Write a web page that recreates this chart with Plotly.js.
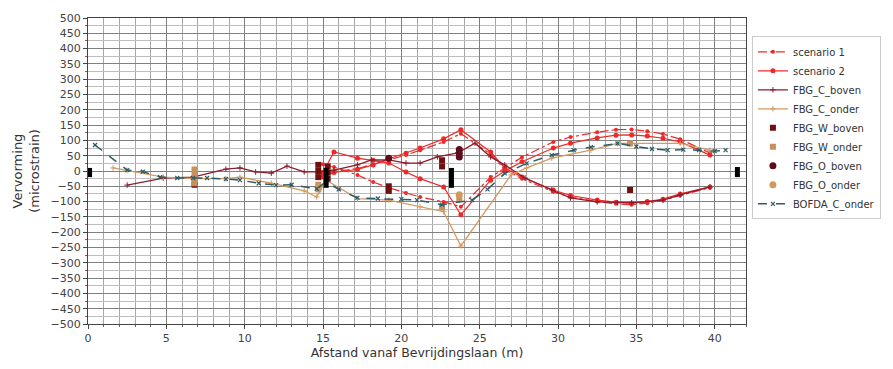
<!DOCTYPE html>
<html>
<head>
<meta charset="utf-8">
<script src="https://cdn.plot.ly/plotly-3.0.1.min.js"></script>
<style>html,body{margin:0;padding:0;background:#fff;}#chart{width:893px;height:369px;}</style>
</head>
<body>
<div id="chart"></div>
<script>
// Scenario sensor positions (m)
const scenX = [15.0, 15.7, 17.2, 18.2, 19.2, 20.3, 21.2, 22.7, 23.8, 25.7, 26.6, 27.7, 29.7, 30.8, 32.5, 33.7, 34.7, 35.7, 36.7, 37.8, 39.7];
const scen1A = [-10, -2, 8, 22, 38, 52, 68, 95, 122, 55, 5, -25, -68, -85, -100, -107, -110, -105, -96, -80, -55];
const scen1B = [22, 13, -13, -36, -55, -72, -85, -101, -117, -20, 10, 45, 95, 111, 127, 135, 136, 130, 121, 104, 59];
const scen2A = [-20, -5, 5, 20, 40, 58, 75, 105, 135, 62, 10, -20, -62, -80, -95, -102, -105, -100, -92, -75, -52];
const scen2B = [-5, 62, 42, 35, 26, -3, -25, -52, -143, -30, 0, 30, 75, 91, 108, 117, 118, 114, 107, 95, 52];

const cBovenX = [2.5, 4.8, 6.7, 8.8, 9.7, 10.7, 11.7, 12.7, 13.8, 14.7, 15.7, 17.2, 18.1, 19.2, 20.3, 21.2, 22.3, 23.6, 24.7, 25.7, 26.6, 27.9, 29.6, 30.8, 32.5, 33.8, 34.7, 36.7, 37.8, 39.7];
const cBovenY = [-46, -23, -20, 6, 10, -3, -7, 16, -3, -3, 3, 20, 36, 36, 26, 26, 46, 59, 91, 46, 20, -23, -62, -88, -101, -104, -104, -95, -78, -52];

const cOnderX = [1.6, 2.5, 4.8, 6.8, 8.8, 9.7, 11.7, 13.8, 14.6, 15.2, 17.2, 19.2, 21.2, 22.7, 23.8, 27.0, 28.0, 29.6, 32.1, 33.8, 34.7, 37.8, 39.7];
const cOnderY = [10, 2, -20, -25, -25, -20, -40, -65, -85, -30, -90, -95, -117, -133, -245, -13, 10, 42, 68, 90, 90, 90, 68];

const wBovenX = [6.8, 14.7, 14.7, 14.7, 15.3, 15.3, 15.3, 19.2, 19.2, 22.6, 22.6, 34.6];
const wBovenY = [-45, 20, 0, -20, 15, -5, -25, -50, -65, 15, 35, -62];

const wOnderX = [6.8, 6.8, 6.8, 6.8, 14.7, 14.7, 22.6, 23.7, 34.6];
const wOnderY = [5, -10, -25, -40, -45, -60, -120, -88, 90];

const oBovenX = [19.2, 23.7, 23.7, 23.7];
const oBovenY = [42, 46, 58, 70];

const oOnderX = [14.7, 23.7];
const oOnderY = [-55, -78];

const bofdaX = [0.45, 2.5, 3.5, 4.6, 5.7, 6.7, 7.6, 8.8, 9.7, 10.9, 12.0, 13.0, 14.6, 15.2, 16.0, 17.2, 18.5, 20.0, 21.0, 22.6, 24.5, 25.5, 26.6, 28.0, 29.6, 31.0, 32.1, 33.8, 35.0, 36.0, 37.0, 38.0, 39.0, 40.0, 40.7];
const bofdaY = [85, 3, -2, -20, -23, -23, -23, -26, -30, -40, -46, -45, -58, -35, -60, -88, -90, -92, -95, -110, -95, -60, -8, 25, 52, 68, 78, 90, 80, 72, 68, 70, 68, 65, 68];

// Black reference bars (x, bottom, top)
const barX = [0.1, 15.2, 23.2, 41.45];
const barLow = [-20, -55, -55, -20];
const barHigh = [10, 10, 10, 13];

function joinBranches(x, a, b) {
  return { x: x.concat([null], x), y: a.concat([null], b) };
}
const s1 = joinBranches(scenX, scen1A, scen1B);
const s2 = joinBranches(scenX, scen2A, scen2B);

const bx = [], by = [];
barX.forEach((v, i) => { bx.push(v, v, null); by.push(barLow[i], barHigh[i], null); });

const red = '#f02828';
const traces = [
  { name: 'scenario 1', x: s1.x, y: s1.y, mode: 'lines+markers', connectgaps: false,
    line: { color: red, width: 1.2, dash: 'dashdot' }, marker: { color: red, size: 4, symbol: 'circle' } },
  { name: 'scenario 2', x: s2.x, y: s2.y, mode: 'lines+markers', connectgaps: false,
    line: { color: red, width: 1.2 }, marker: { color: red, size: 5, symbol: 'circle' } },
  { name: 'FBG_C_boven', x: cBovenX, y: cBovenY, mode: 'lines+markers',
    line: { color: '#8c1c2c', width: 1.3 }, marker: { color: '#8c1c2c', size: 4, symbol: 'cross-thin', line: { color: '#8c1c2c', width: 1 } } },
  { name: 'FBG_C_onder', x: cOnderX, y: cOnderY, mode: 'lines+markers',
    line: { color: '#d49a60', width: 1.3 }, marker: { color: '#d49a60', size: 4, symbol: 'cross-thin', line: { color: '#d49a60', width: 1 } } },
  { name: 'FBG_W_boven', x: wBovenX, y: wBovenY, mode: 'markers',
    marker: { color: '#6e1010', size: 6, symbol: 'square' } },
  { name: 'FBG_W_onder', x: wOnderX, y: wOnderY, mode: 'markers',
    marker: { color: '#c8905a', size: 6, symbol: 'square' } },
  { name: 'FBG_O_boven', x: oBovenX, y: oBovenY, mode: 'markers',
    marker: { color: '#5e0c1c', size: 7, symbol: 'circle' } },
  { name: 'FBG_O_onder', x: oOnderX, y: oOnderY, mode: 'markers',
    marker: { color: '#d09a5e', size: 7, symbol: 'circle' } },
  { name: 'BOFDA_C_onder', x: bofdaX, y: bofdaY, mode: 'lines+markers',
    line: { color: '#2c5c66', width: 1.5, dash: 'dash' }, marker: { color: '#2c5c66', size: 4, symbol: 'x-thin', line: { color: '#2c5c66', width: 1.2 } } },
  { x: bx, y: by, mode: 'lines', line: { color: '#000', width: 5 }, showlegend: false, hoverinfo: 'skip' }
];

const layout = {
  width: 893, height: 369,
  margin: { l: 88, r: 144, t: 18, b: 45 },
  paper_bgcolor: '#fff', plot_bgcolor: '#fff',
  font: { family: 'DejaVu Sans, sans-serif', size: 11, color: '#333' },
  showlegend: true,
  legend: { x: 1.009, y: 0.94, xanchor: 'left', yanchor: 'top', bgcolor: '#fff',
    bordercolor: '#ccc', borderwidth: 1, font: { size: 10, color: '#333' }, tracegroupgap: 0 },
  xaxis: {
    range: [0, 42], tick0: 0, dtick: 5, ticks: 'outside', ticklen: 4, tickcolor: '#444',
    showgrid: true, gridcolor: '#808080', gridwidth: 1, zeroline: false,
    showline: true, mirror: true, linecolor: '#444', linewidth: 1,
    minor: { dtick: 1, showgrid: true, gridcolor: '#a8a8a8', ticks: 'outside', ticklen: 2, tickcolor: '#666' },
    title: { text: 'Afstand vanaf Bevrijdingslaan (m)', font: { size: 12.5, color: '#333' }, standoff: 4 },
    tickfont: { size: 11, color: '#444' }
  },
  yaxis: {
    range: [-500, 500], tick0: 0, dtick: 50, ticks: 'outside', ticklen: 4, tickcolor: '#444',
    showgrid: true, gridcolor: '#808080', gridwidth: 1, zeroline: false,
    showline: true, mirror: true, linecolor: '#444', linewidth: 1,
    minor: { dtick: 25, showgrid: true, gridcolor: '#bdbdbd', ticks: 'outside', ticklen: 2, tickcolor: '#666' },
    title: { text: 'Vervorming<br>(microstrain)', font: { size: 13, color: '#333' }, standoff: 8 },
    tickfont: { size: 11, color: '#444' }
  }
};

Plotly.newPlot('chart', traces, layout, { displayModeBar: false, staticPlot: true });
</script>
</body>
</html>
